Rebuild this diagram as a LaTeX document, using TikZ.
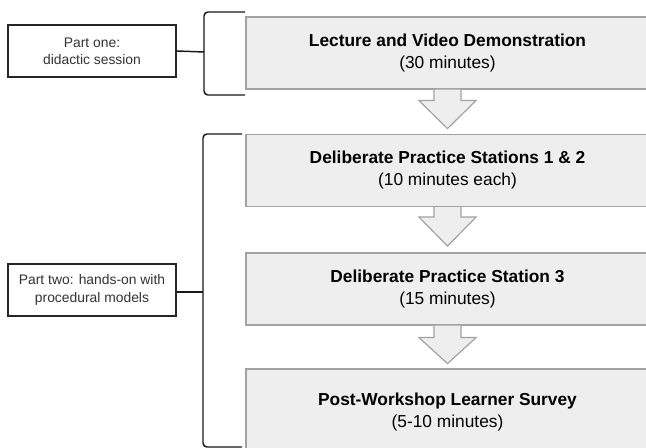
\documentclass[tikz,border=0pt]{standalone}
\usepackage{fontspec}
\setmainfont{Liberation Sans}
\usetikzlibrary{calc}
\definecolor{stepfill}{HTML}{EEEEEE}
\definecolor{stepline}{HTML}{A2A2A2}
\begin{document}
\begin{tikzpicture}[x=0.75pt,y=-0.75pt,
  stepbox/.style={draw=stepline,fill=stepfill,line width=0.9pt,
    minimum width=302.25pt,minimum height=54pt,inner sep=0pt,
    align=center,font=\fontsize{13}{16.5}\selectfont},
  partbox/.style={draw=black!85,fill=white,line width=1.1pt,
    minimum width=126pt,minimum height=39pt,inner sep=0pt,
    align=center,font=\fontsize{10.4}{13}\selectfont,text=black!80},
  flowarrow/.style={draw=stepline,fill=stepfill,line width=0.9pt,line join=miter},
  bracketline/.style={draw=black!90,line width=1.1pt,rounded corners=3pt},
  link/.style={draw=black!90,line width=1.1pt}]
\useasboundingbox (0,0) rectangle (646,448);
\begin{scope}
\clip (0,0) rectangle (646,448);

% steps of the workshop
\node[stepbox] (s1) at (447.5,53) {\textbf{Lecture and Video Demonstration}\\(30 minutes)};
\node[stepbox] (s2) at (447.5,170.5) {\textbf{Deliberate Practice Stations 1 \& 2}\\(10 minutes each)};
\node[stepbox] (s3) at (447.5,289) {\textbf{Deliberate Practice Station 3}\\(15 minutes)};
\node[stepbox,minimum height=64.5pt] (s4) at (447.5,412) {\textbf{Post-Workshop Learner Survey}\\(5-10 minutes)};

% block arrows between the steps
\foreach \a/\h/\t in {s1/11/39, s2/10/39, s3/12/38}{
  \path[flowarrow]
    ($(\a.south)+(-13.5,0)$) -- ++(0,\h) -- ++(-15,0)
    -- ($(\a.south)+(0,\t)$)
    -- ($(\a.south)+(28.5,\h)$) -- ++(-15,0) -- ++(0,-\h);
}

% part labels
\node[partbox] (p1) at (92,51) {Part one:\\didactic session};
\node[partbox] (p2) at (92,290) {Part two: hands-on with\\procedural models};

% brackets grouping the steps
\coordinate (b1) at (204,52);
\coordinate (b2) at (203,292);
\path[bracketline] (245,12) -- (204,12) -- (204,95) -- (245,95);
\path[bracketline] (242,134) -- (203,134) -- (203,447) -- (242,447);
\path[link] (p1.east) -- (b1);
\path[link] (p2.east |- b2) -- (b2);
\end{scope}
\end{tikzpicture}
\end{document}
